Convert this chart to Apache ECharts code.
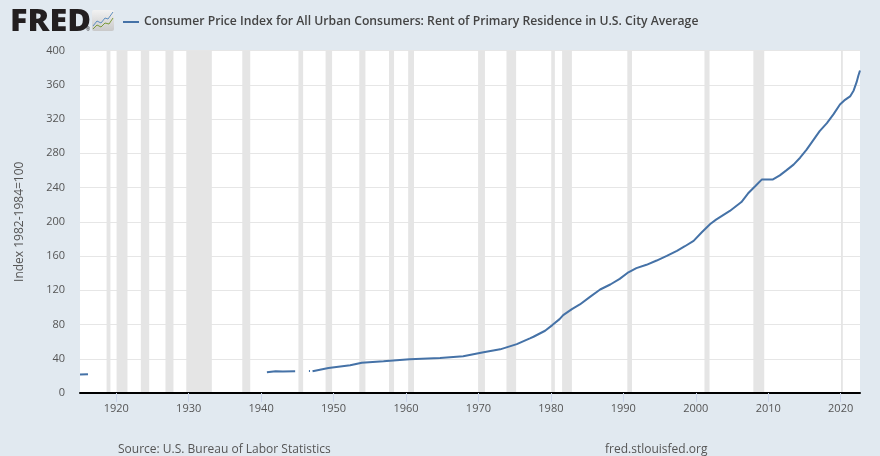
<!DOCTYPE html>
<html>
<head>
<meta charset="utf-8">
<style>html,body{margin:0;padding:0;background:#e1e9f0}#c{width:880px;height:456px}</style>
<script src="https://cdn.jsdelivr.net/npm/echarts@6/dist/echarts.min.js"></script>
</head>
<body>
<div id="c"></div>
<script>
const seriesName = 'Consumer Price Index for All Urban Consumers: Rent of Primary Residence in U.S. City Average';
const yTitle = 'Index 1982-1984=100';
const sourceText = 'Source: U.S. Bureau of Labor Statistics';
const siteText = 'fred.stlouisfed.org';
const yearTicks = [1920,1930,1940,1950,1960,1970,1980,1990,2000,2010,2020];

const years = [1915,1916.1,1916.2,
  1940.8,1942,1943,1944.7,1944.8,
  1946.6,1946.75,1946.85,
  1947.1,1949.3,1952.3,1953.9,1956.9,1960.5,1964.7,1967.9,1970.7,1973,1975.3,1977.1,1977.6,1979.2,1979.4,1980.2,1981.2,1981.7,1982.9,1984,1985.4,1986.8,1988.2,1989.5,1990.7,1991.8,1993.2,1994.6,1996,1997.4,1998.5,1999.7,2000.8,2002,2002.8,2004.7,2006.3,2007.2,2008.2,2009.1,2010.6,2011.6,2012.5,2013.5,2014.4,2015.3,2016.2,2017.1,2018.1,2019,2019.9,2020.5,2021.3,2021.8,2022.2,2022.45,2022.67];
const values = [21.6,22,null,
  24.3,25.3,25.2,25.5,null,
  25.6,25.6,null,
  25.3,29.2,32.3,35.4,37,39.3,40.8,42.8,47.5,51,57.1,63.8,65.7,72.7,74.3,79.3,86.3,91,98,103.4,112.3,120.9,126.7,133.3,141,145.8,149.7,154.7,160.1,166,171.4,177.6,187.4,197.4,202.5,212.6,223,232.9,241.4,249.2,249.2,254.2,260,266.7,274.8,284.2,295,305.9,315.2,325.4,337,341.7,346.4,353.4,363,370.8,376.7];

const recessionStart = [1918.67,1920.05,1923.4,1926.8,1929.67,1937.4,1945.15,1948.9,1953.55,1957.65,1960.3,1969.95,1973.87,1980.05,1981.55,1990.55,2001.2,2007.95,2020.05];
const recessionEnd   = [1919.2,1921.55,1924.55,1927.9,1933.2,1938.5,1945.8,1949.8,1954.4,1958.35,1961.1,1970.9,1975.2,1980.55,1982.9,1991.2,2001.9,2009.45,2020.3];

const chart = echarts.init(document.getElementById('c'), null, {renderer:'canvas'});
const font = '"Open Sans", sans-serif';
chart.setOption({
  animation:false,
  backgroundColor:'#e1e9f0',
  textStyle:{fontFamily:font},
  grid:{show:true,backgroundColor:'#ffffff',borderWidth:0,left:80,right:20,top:50.5,bottom:63},
  legend:{
    left:123,top:16,padding:0,icon:'rect',itemWidth:16,itemHeight:2,itemGap:5,
    data:[seriesName],
    textStyle:{fontFamily:font,fontSize:12.2,fontWeight:600,color:'#444444'},
    selectedMode:false
  },
  xAxis:{
    type:'value',min:1915,max:2022.67,interval:5,z:10,
    axisLine:{onZero:true,lineStyle:{color:'#000',width:2}},
    axisTick:{show:true,length:9,lineStyle:{color:'#ccd6eb',width:1},customValues:yearTicks},
    axisLabel:{color:'#555555',fontSize:11,fontFamily:font,margin:10,customValues:yearTicks,formatter:v=>String(v)},
    splitLine:{show:false}
  },
  yAxis:{
    type:'value',min:0,max:400,interval:40,
    name:yTitle,nameLocation:'middle',nameGap:54,nameRotate:90,
    nameTextStyle:{color:'#555555',fontSize:12,fontFamily:font},
    axisLine:{show:false},axisTick:{show:false},
    axisLabel:{color:'#555555',fontSize:11,fontFamily:font,margin:15,padding:[2,0,0,0]},
    splitLine:{lineStyle:{color:'#e6e6e6',width:1}}
  },
  series:[
    {
      name:'Recessions',type:'line',data:[],silent:true,z:1,
      markArea:{silent:true,itemStyle:{color:'#e5e5e5',opacity:1},
        data:recessionStart.map((s,i)=>[{xAxis:s},{xAxis:recessionEnd[i]}])}
    },
    {
      name:seriesName,type:'line',z:3,showSymbol:false,symbol:'none',connectNulls:false,
      lineStyle:{color:'#4572a7',width:2},itemStyle:{color:'#4572a7'},
      data:years.map((y,i)=>[y,values[i]])
    }
  ],
  graphic:[
    {type:'text',x:10,y:3,scaleX:1.08,style:{text:'FRED',fontFamily:font,fontSize:30,fontWeight:800,fill:'#231f20',textAlign:'left',textVerticalAlign:'top',lineHeight:38}},
    {type:'text',left:86,top:27,style:{text:'®',fontFamily:font,fontSize:5,fill:'#231f20'}},
    {type:'rect',shape:{x:92,y:10,width:22,height:21,r:2},style:{fill:new echarts.graphic.LinearGradient(0,0,0,1,[{offset:0,color:'#f2f2f2'},{offset:1,color:'#c9c9c9'}])}},
    {type:'polyline',shape:{points:[[93,26],[97,21],[101,23],[105,18],[108,19],[113,12]]},style:{stroke:'#5f8fc0',lineWidth:1,fill:null}},
    {type:'polyline',shape:{points:[[93,29],[97,25],[101,27],[105,23],[109,24],[113,18]]},style:{stroke:'#7a9a3a',lineWidth:1,fill:null}},
    {type:'text',left:118,top:444,style:{text:sourceText,fontFamily:font,fontSize:12,fill:'#555555'}},
    {type:'text',left:605,top:444,style:{text:siteText,fontFamily:font,fontSize:12,fill:'#555555'}}
  ]
});
</script>
</body>
</html>
